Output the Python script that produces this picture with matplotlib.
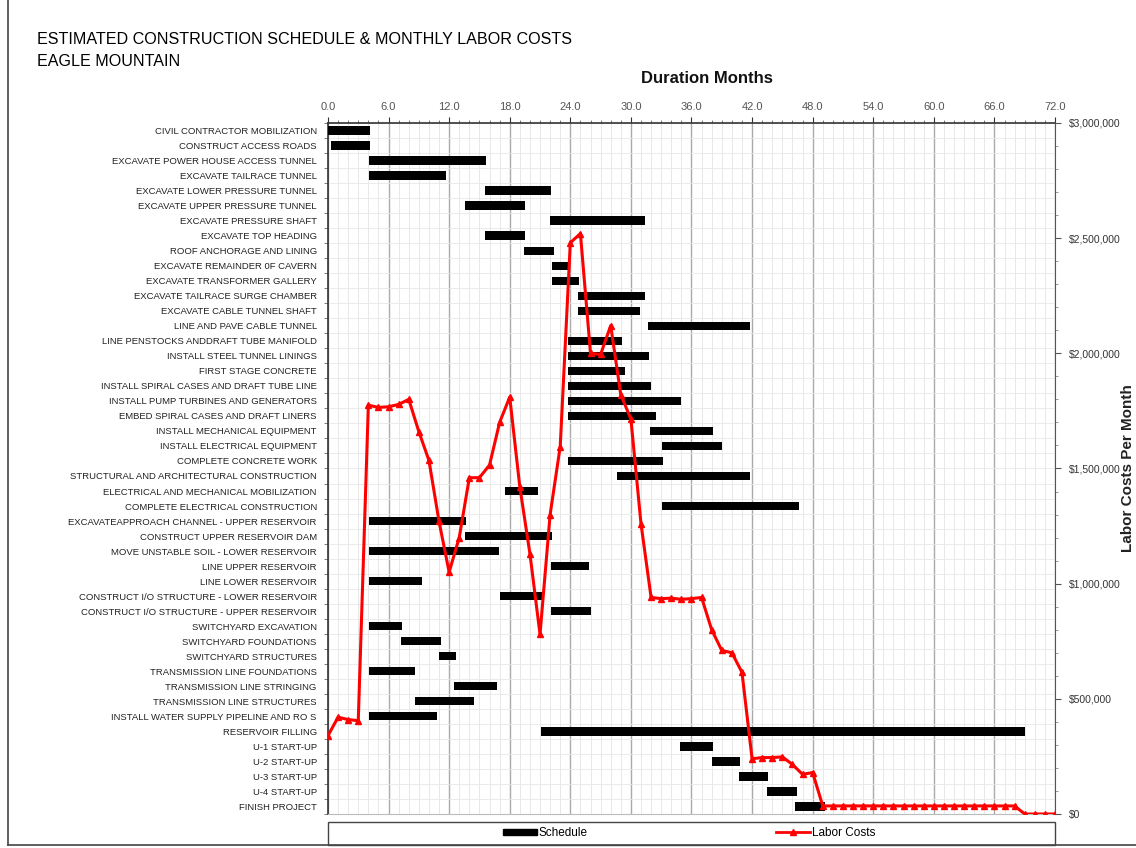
import matplotlib.pyplot as plt
from matplotlib.ticker import MultipleLocator, FuncFormatter
from matplotlib.lines import Line2D
from matplotlib.patches import Patch, Rectangle

plt.rcParams['font.family'] = ['Liberation Sans', 'DejaVu Sans']

# schedule: task, start month, finish month
tasks = [
    "CIVIL CONTRACTOR MOBILIZATION", "CONSTRUCT ACCESS ROADS",
    "EXCAVATE POWER HOUSE ACCESS TUNNEL", "EXCAVATE TAILRACE TUNNEL",
    "EXCAVATE LOWER PRESSURE TUNNEL", "EXCAVATE UPPER PRESSURE TUNNEL",
    "EXCAVATE PRESSURE SHAFT", "EXCAVATE TOP HEADING",
    "ROOF ANCHORAGE AND LINING", "EXCAVATE REMAINDER 0F CAVERN",
    "EXCAVATE TRANSFORMER GALLERY", "EXCAVATE TAILRACE SURGE CHAMBER",
    "EXCAVATE CABLE TUNNEL SHAFT", "LINE AND PAVE CABLE TUNNEL",
    "LINE PENSTOCKS ANDDRAFT TUBE MANIFOLD", "INSTALL STEEL TUNNEL LININGS",
    "FIRST STAGE CONCRETE", "INSTALL SPIRAL CASES AND DRAFT TUBE LINE",
    "INSTALL PUMP TURBINES AND GENERATORS", "EMBED SPIRAL CASES AND DRAFT LINERS",
    "INSTALL MECHANICAL EQUIPMENT", "INSTALL ELECTRICAL EQUIPMENT",
    "COMPLETE CONCRETE WORK", "STRUCTURAL AND ARCHITECTURAL CONSTRUCTION",
    "ELECTRICAL AND MECHANICAL MOBILIZATION", "COMPLETE ELECTRICAL CONSTRUCTION",
    "EXCAVATEAPPROACH CHANNEL - UPPER RESERVOIR", "CONSTRUCT UPPER RESERVOIR DAM",
    "MOVE UNSTABLE SOIL - LOWER RESERVOIR", "LINE UPPER RESERVOIR",
    "LINE LOWER RESERVOIR", "CONSTRUCT I/O STRUCTURE - LOWER RESERVOIR",
    "CONSTRUCT I/O STRUCTURE - UPPER RESERVOIR", "SWITCHYARD EXCAVATION",
    "SWITCHYARD FOUNDATIONS", "SWITCHYARD STRUCTURES",
    "TRANSMISSION LINE FOUNDATIONS", "TRANSMISSION LINE STRINGING",
    "TRANSMISSION LINE STRUCTURES", "INSTALL WATER SUPPLY PIPELINE AND RO S",
    "RESERVOIR FILLING", "U-1 START-UP", "U-2 START-UP", "U-3 START-UP",
    "U-4 START-UP", "FINISH PROJECT",
]
start = [0.0, 0.3, 4.1, 4.1, 15.6, 13.6, 22.0, 15.6, 19.4, 22.2,
         22.2, 24.8, 24.8, 31.7, 23.8, 23.8, 23.8, 23.8, 23.8, 23.8,
         31.9, 33.1, 23.8, 28.6, 17.5, 33.1, 4.1, 13.6, 4.1, 22.1,
         4.1, 17.0, 22.1, 4.1, 7.2, 11.0, 4.1, 12.5, 8.6, 4.1,
         21.1, 34.9, 38.0, 40.7, 43.5, 46.3]
finish = [4.2, 4.2, 15.7, 11.7, 22.1, 19.5, 31.4, 19.5, 22.4, 23.8,
          24.9, 31.4, 30.9, 41.8, 29.1, 31.8, 29.4, 32.0, 35.0, 32.5,
          38.1, 39.0, 33.2, 41.8, 20.8, 46.6, 13.7, 22.2, 16.9, 25.9,
          9.3, 21.3, 26.0, 7.3, 11.2, 12.7, 8.6, 16.7, 14.5, 10.8,
          69.0, 38.1, 40.8, 43.6, 46.4, 49.2]

# monthly labor costs, months 0..72
months = list(range(73))
labor = [340e3, 420e3, 410e3, 405e3, 1775e3, 1765e3, 1768e3, 1778e3, 1800e3, 1660e3,
         1535e3, 1270e3, 1050e3, 1200e3, 1460e3, 1460e3, 1515e3, 1700e3, 1810e3, 1420e3,
         1130e3, 780e3, 1300e3, 1595e3, 2480e3, 2520e3, 2000e3, 1995e3, 2120e3, 1820e3,
         1715e3, 1260e3, 940e3, 935e3, 937e3, 932e3, 935e3, 940e3, 800e3, 710e3,
         700e3, 615e3, 240e3, 245e3, 245e3, 248e3, 215e3, 172e3, 180e3, 35e3,
         35e3, 35e3, 35e3, 35e3, 35e3, 35e3, 35e3, 35e3, 35e3, 35e3,
         35e3, 35e3, 35e3, 35e3, 35e3, 35e3, 35e3, 35e3, 35e3, 0,
         0, 0, 0]

fig = plt.figure(figsize=(11.36, 8.48), dpi=100)
ax = fig.add_axes([0.2887, 0.0401, 0.6400, 0.8149])

n = len(tasks)
rows = [i + 0.5 for i in range(n)]
widths = [f - s for s, f in zip(start, finish)]
ax.barh(rows, widths, left=start, height=0.55, color='black', zorder=3)
ax.set_xlim(0, 72)
ax.set_ylim(n, 0)
ax.xaxis.set_major_locator(MultipleLocator(6))
ax.xaxis.set_minor_locator(MultipleLocator(1))
ax.xaxis.set_major_formatter(FuncFormatter(lambda v, p: f"{v:.1f}"))
ax.xaxis.tick_top()
ax.tick_params(axis='x', which='major', labelsize=8, labelcolor='#555555',
               length=4, pad=4, color='#333333')
ax.tick_params(axis='x', which='minor', length=2, color='#666666')
ax.set_yticks(rows)
ax.set_yticklabels(tasks, fontsize=6.8, color='#222222')
ax.yaxis.set_minor_locator(MultipleLocator(1))
ax.tick_params(axis='y', which='major', length=0, pad=8)
ax.tick_params(axis='y', which='minor', length=3, color='#666666')
ax.grid(True, axis='x', which='major', color='#aaaaaa', lw=1.0, zorder=1)
ax.grid(True, axis='x', which='minor', color='#e4e4e4', lw=0.6, zorder=0)
ax.grid(True, axis='y', which='minor', color='#e8e8e8', lw=0.6, zorder=0)
for s in ['left', 'top']:
    ax.spines[s].set_color('#333333')
    ax.spines[s].set_linewidth(1.2)
ax.spines['bottom'].set_color('#bbbbbb')
ax.spines['right'].set_visible(False)

ax2 = ax.twinx()
ax2.plot(months, labor, color='#ff0000', lw=2.2, marker='^', ms=4, zorder=4)
ax2.set_ylim(0, 3e6)
ax2.yaxis.set_major_locator(MultipleLocator(500000))
ax2.yaxis.set_minor_locator(MultipleLocator(100000))
ax2.yaxis.set_major_formatter(FuncFormatter(lambda v, p: f"${v:,.0f}"))
ax2.tick_params(axis='y', which='major', labelsize=7.5, labelcolor='#333333',
                length=4, pad=6, color='#555555')
ax2.tick_params(axis='y', which='minor', length=2, color='#888888')
ax2.spines['right'].set_color('#555555')
for s in ['left', 'top', 'bottom']:
    ax2.spines[s].set_visible(False)
ax2.set_ylabel("Labor Costs Per Month", fontsize=11, fontweight='bold',
               color='#222222')
ax2.yaxis.set_label_coords(1.0905, 0.5)

fig.text(0.033, 0.953, "ESTIMATED CONSTRUCTION SCHEDULE & MONTHLY LABOR COSTS",
         fontsize=11.6, color='#000000', va='center')
fig.text(0.033, 0.928, "EAGLE MOUNTAIN",
         fontsize=11.6, color='#000000', va='center')
fig.text(0.622, 0.907, "Duration Months", fontsize=12, fontweight='bold',
         ha='center', va='center', color='#111111')

# legend box below plot
fig.patches.append(Rectangle((0.2887, 0.004), 0.6400, 0.027,
                             transform=fig.transFigure, fill=False,
                             edgecolor='#444444', lw=1.0))
handles = [Patch(color='black', label='Schedule'),
           Line2D([], [], color='#ff0000', lw=2, marker='^', ms=4,
                  label='Labor Costs')]
fig.legend(handles=handles, loc='center', bbox_to_anchor=(0.6065, 0.0175),
           ncol=2, frameon=False, fontsize=8.5, columnspacing=15.9,
           handlelength=2.9, handleheight=0.5, handletextpad=0.15)

# outer frame
fig.add_artist(Line2D([0.007, 0.007], [0.003, 1.0], transform=fig.transFigure,
                      color='#444444', lw=1.2))
fig.add_artist(Line2D([0.007, 1.0], [0.003, 0.003], transform=fig.transFigure,
                      color='#444444', lw=1.2))

fig.savefig("out.png", dpi=100)
